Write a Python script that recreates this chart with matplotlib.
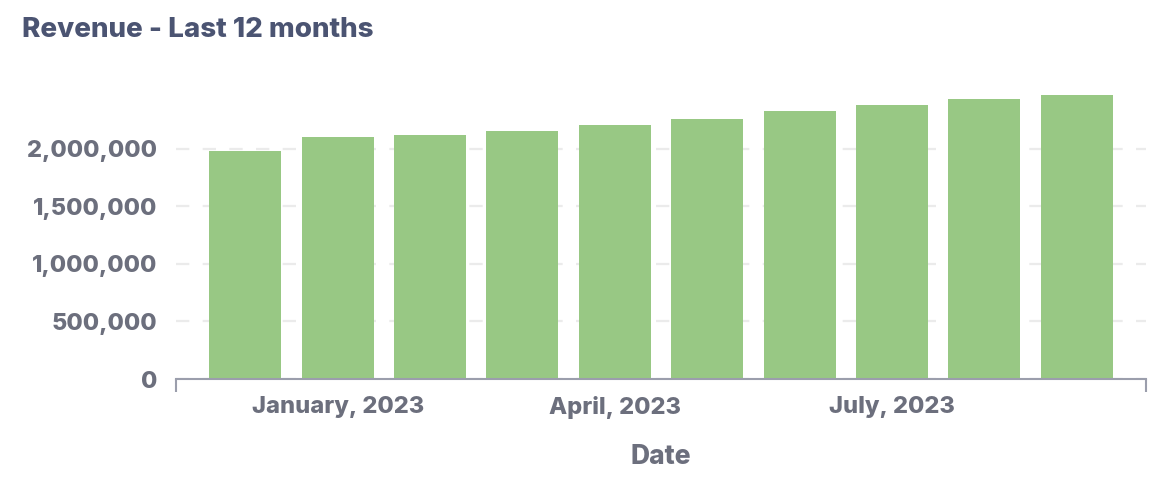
import matplotlib
matplotlib.use("Agg")
import matplotlib.pyplot as plt
from matplotlib.ticker import FuncFormatter

# monthly revenue, Dec 2022 .. Sep 2023
months = ["December, 2022", "January, 2023", "February, 2023", "March, 2023",
          "April, 2023", "May, 2023", "June, 2023", "July, 2023",
          "August, 2023", "September, 2023"]
revenue = [1983000, 2104000, 2122000, 2157000, 2209000,
           2261000, 2330000, 2383000, 2435000, 2470000]
shown_labels = ["January, 2023", "April, 2023", "July, 2023"]
y_ticks = [0, 500000, 1000000, 1500000, 2000000]

plt.rcParams['font.family'] = ['Inter', 'DejaVu Sans']

label_grey = '#6c6f7d'
axis_grey = '#9b9eac'
heavy = 800

fig = plt.figure(figsize=(11.68, 4.82), dpi=100)
ax = fig.add_axes([176 / 1168, 1 - 379 / 482, (1146 - 176) / 1168, (379 - 75) / 482])

x = list(range(len(months)))
ax.bar(x, revenue, width=0.78, color='#98c884', zorder=2)

ax.set_xlim(-0.75, len(months) - 0.25)
ax.set_ylim(0, 2640000)

ax.set_yticks(y_ticks)
ax.yaxis.set_major_formatter(FuncFormatter(lambda v, p: f"{int(v):,}"))
ax.tick_params(axis='y', length=0, pad=13.5, labelsize=17, labelcolor=label_grey)
for t in ax.get_yticklabels():
    t.set_fontweight(heavy)

tick_pos = [months.index(m) for m in shown_labels]
ax.set_xticks(tick_pos)
ax.set_xticklabels(shown_labels, fontsize=17, fontweight=heavy, color=label_grey)
ax.tick_params(axis='x', which='major', length=0, pad=12.5)
# end ticks on the x axis
ax.set_xticks([-0.75, len(months) - 0.25], minor=True)
ax.tick_params(axis='x', which='minor', length=9, width=1.5, color=axis_grey)

ax.grid(axis='y', color='#ebebeb', linewidth=1.6, linestyle=(0, (6, 6)), zorder=0)
for s in ['top', 'right', 'left']:
    ax.spines[s].set_visible(False)
ax.spines['bottom'].set_color(axis_grey)
ax.spines['bottom'].set_linewidth(1.5)
ax.spines['bottom'].set_zorder(3)

ax.set_xlabel("Date", fontsize=19, fontweight=heavy, color=label_grey, labelpad=18)

fig.text(22 / 1168, 1 - 30 / 482, "Revenue - Last 12 months", fontsize=20,
         fontweight=heavy, color='#4b5472', va='center', ha='left')

fig.savefig("out.png", dpi=100)
